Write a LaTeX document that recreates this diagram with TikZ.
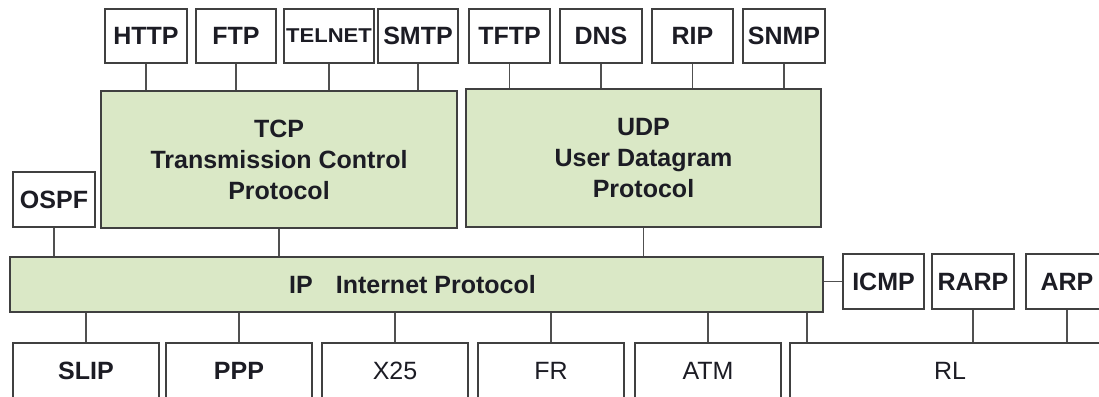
\documentclass[tikz,border=0pt]{standalone}
\usepackage{fontspec}
\setmainfont{Liberation Sans}
\definecolor{gfill}{RGB}{218,232,198}
\definecolor{bord}{RGB}{64,64,64}
\definecolor{lnk}{RGB}{80,80,80}
\definecolor{txt}{RGB}{28,28,36}
\begin{document}
\begin{tikzpicture}[x=1pt,y=-1pt,
  base/.style={draw=bord, line width=1.6pt, inner sep=0pt, text=txt, anchor=center, minimum height=55pt},
  wbox/.style={base, fill=white, font=\fontsize{25}{30}\selectfont\bfseries},
  lbox/.style={base, fill=white, font=\fontsize{25}{30}\selectfont},
  gbox/.style={base, fill=gfill, line width=1.8pt, align=center, font=\fontsize{25}{31}\selectfont\bfseries},
  link/.style={draw=lnk, line width=1.6pt}]
\useasboundingbox (0,0) rectangle (1099,396);
\clip (0,0) rectangle (1099,396);
% application layer
\node[wbox, minimum width=82pt, minimum height=54pt] (http) at (146,36) {HTTP};
\node[wbox, minimum width=80pt, minimum height=54pt] (ftp) at (236,36) {FTP};
\node[wbox, minimum width=90pt, minimum height=54pt, font=\fontsize{20}{24}\selectfont\bfseries] (telnet) at (329,36) {\scalebox{1.1}[1]{TELNET}};
\node[wbox, minimum width=80pt, minimum height=54pt] (smtp) at (418,36) {SMTP};
\node[wbox, minimum width=81pt, minimum height=54pt] (tftp) at (509.5,36) {TFTP};
\node[wbox, minimum width=82pt, minimum height=54pt] (dns) at (601,36) {DNS};
\node[wbox, minimum width=81pt, minimum height=54pt] (rip) at (692.5,36) {RIP};
\node[wbox, minimum width=82pt, minimum height=54pt] (snmp) at (784,36) {SNMP};
% transport layer
\node[gbox, minimum width=356pt, minimum height=137pt] (tcp) at (279,159.5) {TCP\\Transmission Control\\Protocol};
\node[gbox, minimum width=355pt, minimum height=138pt] (udp) at (643.5,158) {UDP\\User Datagram\\Protocol};
\node[wbox, minimum width=82pt] (ospf) at (54,199.5) {OSPF};
% network layer
\node[gbox, minimum width=813pt] (ip) at (416.5,284.5) {IP\hspace{23pt}Internet Protocol\hspace{8pt}};
\node[wbox, minimum width=81pt] (icmp) at (883.5,281.5) {ICMP};
\node[wbox, minimum width=82pt] (rarp) at (973,281.5) {RARP};
\node[wbox, minimum width=82pt] (arp) at (1067,281.5) {ARP};
% link layer
\node[wbox, minimum width=146pt] (slip) at (86,370.5) {SLIP};
\node[wbox, minimum width=146pt] (ppp) at (239,370.5) {PPP};
\node[lbox, minimum width=146pt] (x25) at (395,370.5) {X25};
\node[lbox, minimum width=146pt] (fr) at (551,370.5) {FR};
\node[lbox, minimum width=146pt] (atm) at (708,370.5) {ATM};
\node[lbox, minimum width=320pt] (rl) at (950,370.5) {RL};
\coordinate (rlx) at (807,0);
% connectors
\foreach \a in {http,ftp,telnet,smtp}
  \draw[link] (\a.south) -- (\a.south |- tcp.north);
\foreach \a in {tftp,dns,rip,snmp}
  \draw[link] (\a.south) -- (\a.south |- udp.north);
\draw[link] (tcp.south) -- (tcp.south |- ip.north);
\draw[link] (udp.south) -- (udp.south |- ip.north);
\draw[link] (ospf.south) -- (ospf.south |- ip.north);
\draw[link] (icmp.west) -- (icmp.west -| ip.east);
\foreach \a in {slip,ppp,x25,fr,atm}
  \draw[link] (\a.north) -- (\a.north |- ip.south);
\draw[link] (ip.south -| rlx) -- (rl.north -| rlx);
\draw[link] (rarp.south) -- (rarp.south |- rl.north);
\draw[link] (arp.south) -- (arp.south |- rl.north);
\end{tikzpicture}
\end{document}
